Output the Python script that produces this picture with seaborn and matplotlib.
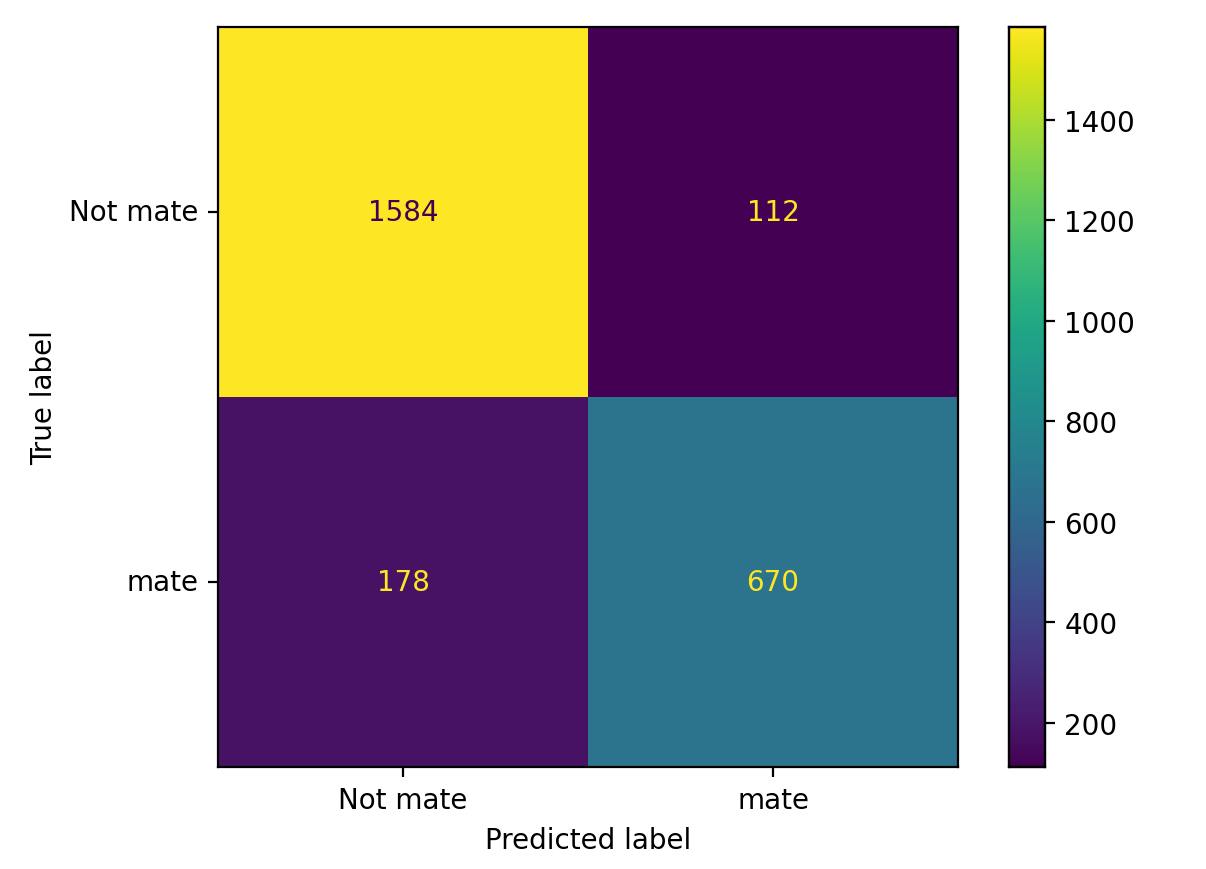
import numpy as np
import pandas as pd
import matplotlib
matplotlib.use('Agg')
import matplotlib.pyplot as plt
import seaborn as sns

labels = ['Not mate', 'mate']
counts_not_mate = [1584, 112]
counts_mate = [178, 670]

cm = pd.DataFrame([counts_not_mate, counts_mate], index=labels, columns=labels)

fig = plt.figure(figsize=(6.03, 4.35), dpi=200)
ax = fig.add_axes([218/1206, 102/870, 740/1206, 740/870])
cax = fig.add_axes([1009/1206, 102/870, 36/1206, 740/870])

cmap = plt.get_cmap('viridis')
vmin, vmax = cm.values.min(), cm.values.max()
sns.heatmap(cm, cmap=cmap, ax=ax, cbar_ax=cax, vmin=vmin, vmax=vmax, annot=False)

# text colour like sklearn: dark on bright cells, bright on dark cells
thresh = (vmax + vmin) / 2
for i in range(cm.shape[0]):
    for j in range(cm.shape[1]):
        v = cm.values[i, j]
        c = cmap(0.0) if v >= thresh else cmap(1.0)
        ax.text(j + 0.5, i + 0.5, str(v), ha='center', va='center', color=c, fontsize=10)

for s in ax.spines.values():
    s.set_visible(True)
    s.set_linewidth(0.8)
for s in cax.spines.values():
    s.set_visible(True)
    s.set_linewidth(0.8)

ax.set_xticklabels(labels, rotation=0)
ax.set_yticklabels(labels, rotation=0)
ax.tick_params(axis='both', length=3.5, width=0.8, labelsize=10)
ax.set_xlabel('Predicted label', fontsize=10)
ax.set_ylabel('True label', fontsize=10)
cax.set_yticks([200, 400, 600, 800, 1000, 1200, 1400])
cax.tick_params(length=3.5, width=0.8, labelsize=10)

fig.savefig('out.png', dpi=200)
